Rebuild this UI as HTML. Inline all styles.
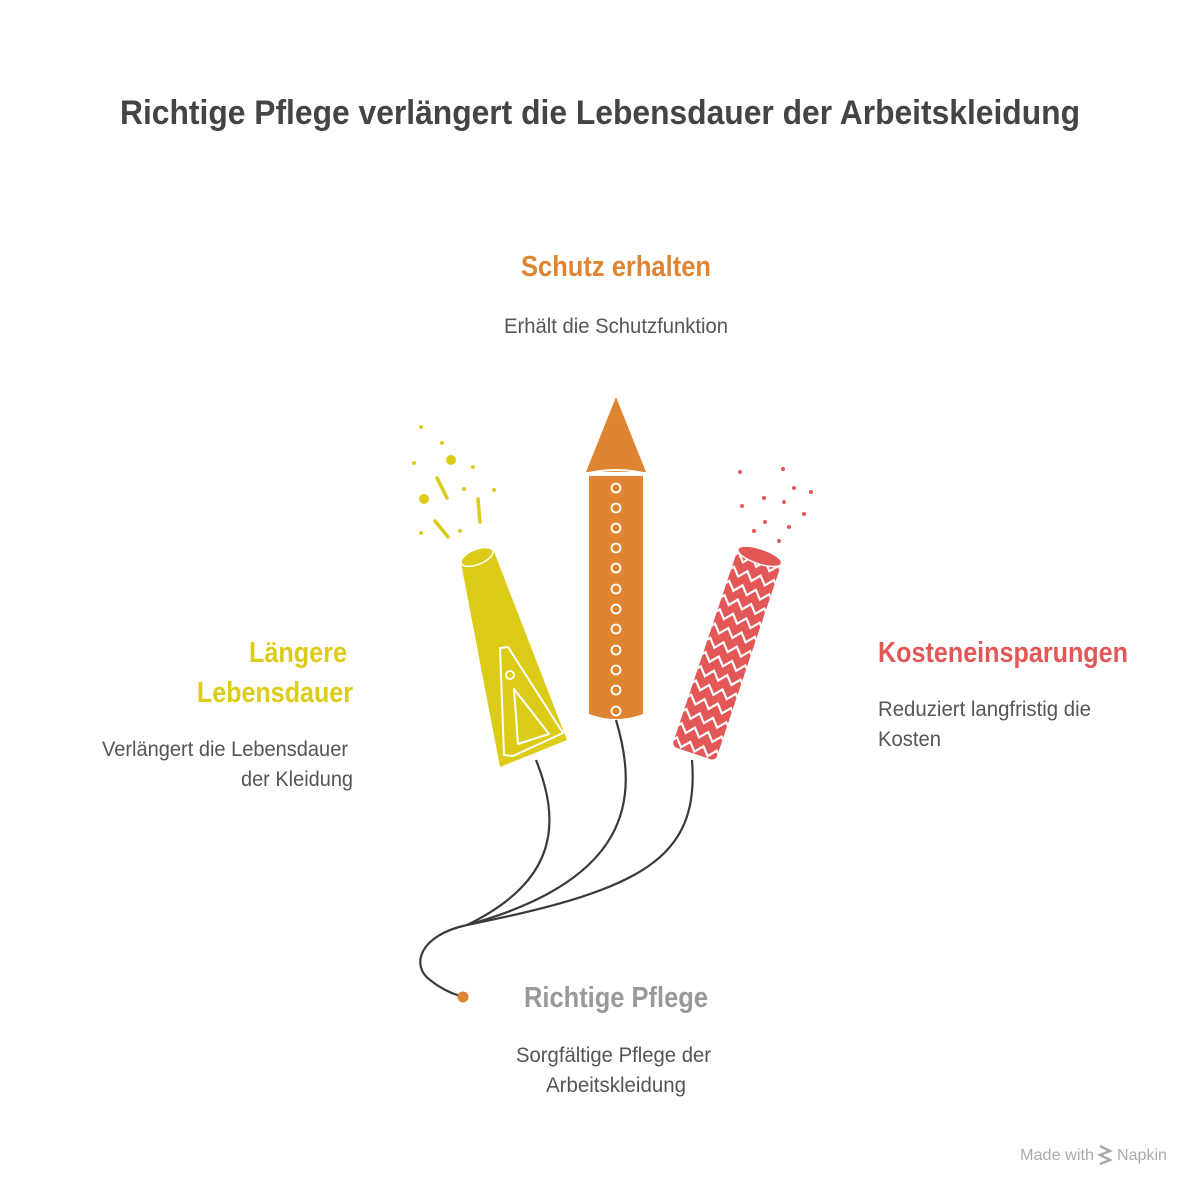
<!DOCTYPE html>
<html><head><meta charset="utf-8"><style>
html,body{margin:0;padding:0;background:#fff;}
svg{display:block;}
text{font-family:"Liberation Sans",sans-serif;}
</style></head><body>
<svg width="1200" height="1200" viewBox="0 0 1200 1200" xmlns="http://www.w3.org/2000/svg">
<rect width="1200" height="1200" fill="#fff"/>
<text x="120" y="124" font-size="34" font-weight="bold" fill="#444" textLength="960" lengthAdjust="spacingAndGlyphs">Richtige Pflege verlängert die Lebensdauer der Arbeitskleidung</text>

<text x="521" y="276" font-size="29" font-weight="bold" fill="#df8431" textLength="190" lengthAdjust="spacingAndGlyphs">Schutz erhalten</text>
<text x="504" y="333" font-size="21" fill="#555" textLength="224" lengthAdjust="spacingAndGlyphs">Erhält die Schutzfunktion</text>

<text x="249" y="662" font-size="29" font-weight="bold" fill="#dccb17" textLength="98" lengthAdjust="spacingAndGlyphs">Längere</text>
<text x="197" y="702" font-size="29" font-weight="bold" fill="#dccb17" textLength="156" lengthAdjust="spacingAndGlyphs">Lebensdauer</text>
<text x="102" y="756" font-size="21" fill="#555" textLength="246" lengthAdjust="spacingAndGlyphs">Verlängert die Lebensdauer</text>
<text x="241" y="786" font-size="21" fill="#555" textLength="112" lengthAdjust="spacingAndGlyphs">der Kleidung</text>

<text x="878" y="662" font-size="29" font-weight="bold" fill="#e35757" textLength="250" lengthAdjust="spacingAndGlyphs">Kosteneinsparungen</text>
<text x="878" y="716" font-size="21" fill="#555" textLength="213" lengthAdjust="spacingAndGlyphs">Reduziert langfristig die</text>
<text x="878" y="746" font-size="21" fill="#555" textLength="63" lengthAdjust="spacingAndGlyphs">Kosten</text>

<text x="524" y="1007" font-size="29" font-weight="bold" fill="#999" textLength="184" lengthAdjust="spacingAndGlyphs">Richtige Pflege</text>
<text x="516" y="1062" font-size="21" fill="#555" textLength="195" lengthAdjust="spacingAndGlyphs">Sorgfältige Pflege der</text>
<text x="546" y="1092" font-size="21" fill="#555" textLength="140" lengthAdjust="spacingAndGlyphs">Arbeitskleidung</text>

<text x="1020" y="1160" font-size="16" fill="#aaa" textLength="74" lengthAdjust="spacingAndGlyphs">Made with</text>
<path d="M1100 1146 l10 5 l-10 4 l10 5 l-10 4" stroke="#aaa" stroke-width="2.5" fill="none"/>
<text x="1117" y="1160" font-size="16" fill="#aaa" textLength="50" lengthAdjust="spacingAndGlyphs">Napkin</text>

<g stroke="#3a3a3a" stroke-width="2.2" fill="none">
<path d="M536 760 C560 820 560 880 467 925"/>
<path d="M616 720 C640 800 630 880 467 925"/>
<path d="M692 760 C700 860 640 890 467 925"/>
<path d="M467 925 C420 935 410 965 430 980 C440 988 450 993 460 996"/>
</g>
<circle cx="463" cy="997" r="5.5" fill="#df8431"/>

<polygon points="461,563 493,549 567,740 500,767" fill="#dccb17"/>
<ellipse cx="477" cy="557" rx="17" ry="7.5" transform="rotate(-22 477 557)" fill="#dccb17" stroke="#fff" stroke-width="1.5"/>
<polygon points="500,648 508,647 563,733 513,756 504,755" fill="none" stroke="#fff" stroke-width="2" stroke-linejoin="round"/>
<polygon points="514,689 549,734 518,744" fill="none" stroke="#fff" stroke-width="2" stroke-linejoin="round"/>
<circle cx="510" cy="675" r="4" fill="none" stroke="#fff" stroke-width="1.8"/>
<g fill="#dccb17">
<circle cx="421" cy="427" r="2"/><circle cx="442" cy="443" r="2"/><circle cx="414" cy="463" r="2"/>
<circle cx="451" cy="460" r="5"/><circle cx="473" cy="467" r="2"/><circle cx="464" cy="489" r="2"/>
<circle cx="494" cy="490" r="2"/><circle cx="424" cy="499" r="5"/><circle cx="421" cy="533" r="2"/><circle cx="460" cy="531" r="2"/>
</g>
<g stroke="#dccb17" stroke-width="3.5" stroke-linecap="round">
<line x1="437" y1="478" x2="447" y2="498"/><line x1="478" y1="499" x2="480" y2="522"/><line x1="435" y1="521" x2="448" y2="537"/>
</g>

<polygon points="616,397 586,472 646,472" fill="#df8431"/>
<path d="M585,474 Q616,466 647,474" stroke="#fff" stroke-width="2" fill="none"/>
<path d="M589,476 L643,476 L643,714 Q616,724 589,714 Z" fill="#df8431"/>
<g fill="none" stroke="#fff" stroke-width="1.8">
<circle cx="616" cy="488" r="4.5"/><circle cx="616" cy="508" r="4.5"/><circle cx="616" cy="528" r="4.5"/>
<circle cx="616" cy="548" r="4.5"/><circle cx="616" cy="568" r="4.5"/><circle cx="616" cy="589" r="4.5"/>
<circle cx="616" cy="609" r="4.5"/><circle cx="616" cy="629" r="4.5"/><circle cx="616" cy="650" r="4.5"/>
<circle cx="616" cy="670" r="4.5"/><circle cx="616" cy="690" r="4.5"/><circle cx="616" cy="711" r="4.5"/>
</g>

<defs>
<clipPath id="tube"><rect x="-23" y="-103" width="46" height="208" rx="5"/></clipPath>
</defs>
<g transform="translate(727 654) rotate(18.5)">
<rect x="-23" y="-103" width="46" height="208" rx="5" fill="#e35757"/>
<g clip-path="url(#tube)" stroke="#fff" stroke-width="2.2" fill="none">
<path id="zz" d="M-28 -92 l7 -8 l7 8 l7 -8 l7 8 l7 -8 l7 8 l7 -8 l7 8"/>
<use href="#zz" y="15"/><use href="#zz" y="30"/><use href="#zz" y="45"/><use href="#zz" y="60"/>
<use href="#zz" y="75"/><use href="#zz" y="90"/><use href="#zz" y="105"/><use href="#zz" y="120"/>
<use href="#zz" y="135"/><use href="#zz" y="150"/><use href="#zz" y="165"/><use href="#zz" y="180"/><use href="#zz" y="195"/>
</g>
<ellipse cx="0" cy="-103" rx="23" ry="7.5" fill="#e35757" stroke="#fff" stroke-width="1.5"/>
</g>
<g fill="#e35757">
<circle cx="740" cy="472" r="2"/><circle cx="783" cy="469" r="2"/><circle cx="794" cy="488" r="2"/>
<circle cx="811" cy="492" r="2"/><circle cx="742" cy="506" r="2"/><circle cx="764" cy="498" r="2"/>
<circle cx="784" cy="502" r="2"/><circle cx="804" cy="514" r="2"/><circle cx="765" cy="522" r="2"/>
<circle cx="789" cy="527" r="2"/><circle cx="754" cy="531" r="2"/><circle cx="779" cy="541" r="2"/>
</g>
</svg>
</body></html>
